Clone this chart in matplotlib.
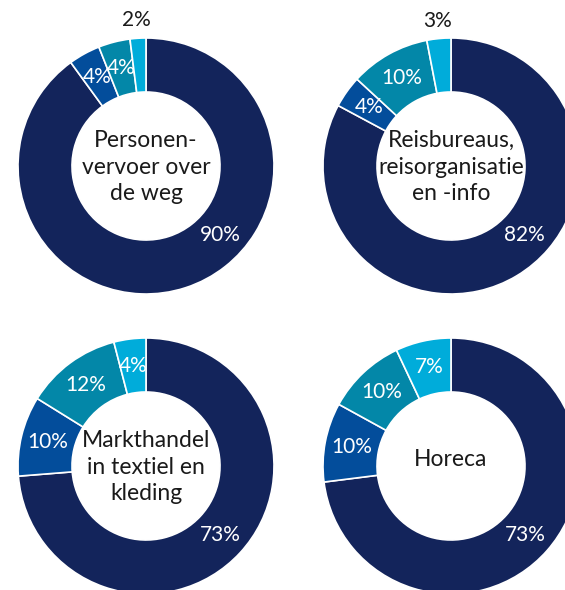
import matplotlib
matplotlib.use("Agg")
import matplotlib.pyplot as plt
import numpy as np

# sector data, order: navy (big), blue, teal, light blue
titles = ["Personen-\nvervoer over\nde weg",
          "Reisbureaus,\nreisorganisatie\nen -info",
          "Markthandel\nin textiel en\nkleding",
          "Horeca"]
shares = [[90, 4, 4, 2],
          [82, 4, 10, 3],
          [73, 10, 12, 4],
          [73, 10, 10, 7]]
# labels that sit outside the ring (too small a slice)
outside = [[False, False, False, True],
           [False, False, False, True],
           [False, False, False, False],
           [False, False, False, False]]

colors = ["#13245b", "#034d9b", "#0387a8", "#00acda"]

W, H = 565, 590
centers = [(146, 424), (451, 424), (146, 124), (451, 124)]
title_dy = [-1, -1, -1, 7]
R_OUT = 128
R_IN = 74
big_angle = -43

plt.rcParams['font.family'] = ['Lato', 'DejaVu Sans']

fig = plt.figure(figsize=(W / 100, H / 100), dpi=100)
ax = fig.add_axes([0, 0, 1, 1])

r_mid = (R_OUT + R_IN) / 2
for title, vals, outs, (cx, cy), dy in zip(titles, shares, outside, centers, title_dy):
	wedges, _ = ax.pie(vals, colors=colors, startangle=90, counterclock=False,
	                   center=(cx, cy), radius=R_OUT,
	                   wedgeprops=dict(width=R_OUT - R_IN, edgecolor="white", linewidth=1.2),
	                   frame=True)
	for i, (w, v, out) in enumerate(zip(wedges, vals, outs)):
		if i == 0:
			ang = big_angle
		else:
			ang = (w.theta1 + w.theta2) / 2
		r = R_OUT + 18 if out else r_mid
		tx = cx + r * np.cos(np.radians(ang))
		ty = cy + r * np.sin(np.radians(ang))
		ax.text(tx, ty, f"{v}%", ha="center", va="center", fontsize=15,
		        color="#1a1a1a" if out else "white")
	ax.text(cx, cy + dy, title, ha="center", va="center", fontsize=16.5,
	        color="#1a1a1a", linespacing=1.32)

ax.set_xlim(0, W)
ax.set_ylim(0, H)
ax.set_aspect("equal")
ax.axis("off")

fig.savefig("out.png", dpi=100)
